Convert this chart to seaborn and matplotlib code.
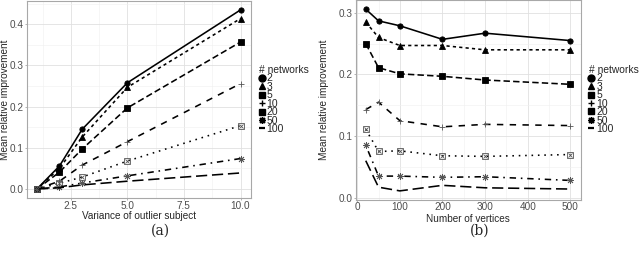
import matplotlib
matplotlib.use("Agg")
import matplotlib.pyplot as plt
from matplotlib.lines import Line2D
from matplotlib.ticker import MultipleLocator, FormatStrFormatter
import seaborn as sns
import pandas as pd

networks = ["2", "3", "5", "10", "20", "50", "100"]

# panel (a)
variance = [1, 2, 3, 5, 10]
imp_a = {
    "2":   [0.0, 0.056, 0.145, 0.258, 0.435],
    "3":   [0.0, 0.050, 0.126, 0.247, 0.414],
    "5":   [0.0, 0.041, 0.097, 0.197, 0.357],
    "10":  [0.0, 0.019, 0.058, 0.115, 0.256],
    "20":  [0.0, 0.014, 0.029, 0.068, 0.154],
    "50":  [0.0, 0.005, 0.0145, 0.032, 0.074],
    "100": [0.0, 0.003, 0.010, 0.019, 0.039],
}

# panel (b)
vertices = [20, 50, 100, 200, 300, 500]
imp_b = {
    "2":   [0.306, 0.287, 0.279, 0.257, 0.267, 0.255],
    "3":   [0.285, 0.260, 0.247, 0.247, 0.240, 0.240],
    "5":   [0.250, 0.211, 0.201, 0.197, 0.191, 0.184],
    "10":  [0.143, 0.155, 0.125, 0.115, 0.119, 0.117],
    "20":  [0.111, 0.075, 0.076, 0.068, 0.067, 0.070],
    "50":  [0.085, 0.035, 0.035, 0.033, 0.034, 0.028],
    "100": [0.060, 0.017, 0.011, 0.020, 0.016, 0.014],
}

markers = ["o", "^", "s", "+", "s", (8, 2, 0), "_"]
dashes = [(None, None), (2, 2), (4, 2), (4, 4), (1, 3), (1, 3, 4, 3), (7, 3)]
msizes = [3.8, 4.2, 3.8, 5, 3.8, 5, 0]
mcolors = ["black", "black", "black", "#555555", "#555555", "#555555", "black"]
mfaces = ["black", "black", "black", "#555555", "none", "#555555", "black"]

def long_df(xvals, table, xname):
    rows = []
    for n in networks:
        for x, y in zip(xvals, table[n]):
            rows.append({xname: x, "imp": y, "networks": n})
    return pd.DataFrame(rows)

df_a = long_df(variance, imp_a, "variance")
df_b = long_df(vertices, imp_b, "vertices")

sns.set_style("white")
plt.rcParams["font.family"] = ["Liberation Sans", "DejaVu Sans"]

fig = plt.figure(figsize=(6.4, 2.61), dpi=100)
ax_a = fig.add_axes([0.0417, 0.2414, 0.35, 0.755])
ax_b = fig.add_axes([0.5555, 0.2356, 0.3516, 0.764])

grey30 = "#4d4d4d"

def draw(ax, df, xname):
    for i, n in enumerate(networks):
        sub = df[df["networks"] == n]
        sns.lineplot(data=sub, x=xname, y="imp", color="black", lw=1.15,
                     dashes=dashes[i], marker=markers[i], markersize=msizes[i],
                     markeredgecolor=mcolors[i], markerfacecolor=mfaces[i],
                     markeredgewidth=0.6, ax=ax, legend=False, zorder=3)
        if n == "20":
            # the cross inside the square marker
            sns.lineplot(data=sub, x=xname, y="imp", color="#555555", ls="",
                         marker="x", markersize=3.4, markeredgecolor="#555555",
                         markeredgewidth=0.6, ax=ax, legend=False, zorder=4)
    ax.set_facecolor("white")
    ax.grid(True, which="major", color="#e0e0e0", lw=0.6)
    ax.grid(True, which="minor", color="#f0f0f0", lw=0.4)
    ax.set_axisbelow(True)
    for s in ax.spines.values():
        s.set_color("#a8a8a8")
        s.set_linewidth(0.8)
    ax.tick_params(axis="both", which="major", length=1.5, width=0.6,
                   color="#a8a8a8", labelsize=7.2, labelcolor=grey30, pad=0.6,
                   direction="out", bottom=True, left=True)
    ax.tick_params(which="minor", length=0)
    ax.set_ylabel("Mean relative improvement", fontsize=7.2)
    handles = []
    for i, n in enumerate(networks):
        handles.append(Line2D([0], [0], color="black", lw=0, marker=markers[i],
                              markersize=max(msizes[i], 5.5) - 0.5,
                              markeredgewidth=1.0 if i != 6 else 1.6,
                              markeredgecolor="black", markerfacecolor="black"))
    ax.legend(handles, networks, title="# networks", loc="upper left",
              bbox_to_anchor=(1.037, 0.675), frameon=False, fontsize=7.5,
              title_fontsize=7.4, labelspacing=-0.15, handlelength=0.5,
              handletextpad=0.2, borderpad=0, borderaxespad=0,
              alignment="left")

draw(ax_a, df_a, "variance")
ax_a.set_xlim(0.55, 10.45)
ax_a.set_ylim(-0.0218, 0.4568)
ax_a.xaxis.set_major_locator(MultipleLocator(2.5))
ax_a.xaxis.set_minor_locator(MultipleLocator(1.25))
ax_a.yaxis.set_major_locator(MultipleLocator(0.1))
ax_a.yaxis.set_minor_locator(MultipleLocator(0.05))
ax_a.xaxis.set_major_formatter(FormatStrFormatter("%.1f"))
ax_a.yaxis.set_major_formatter(FormatStrFormatter("%.1f"))
ax_a.set_xlabel("Variance of outlier subject", fontsize=7.2)
ax_a.xaxis.set_label_coords(0.5, -0.068)
ax_a.yaxis.set_label_coords(-0.075, 0.5)

draw(ax_b, df_b, "vertices")
ax_b.set_xlim(-4, 524)
ax_b.set_ylim(-0.003, 0.3207)
ax_b.xaxis.set_major_locator(MultipleLocator(100))
ax_b.xaxis.set_minor_locator(MultipleLocator(50))
ax_b.yaxis.set_major_locator(MultipleLocator(0.1))
ax_b.yaxis.set_minor_locator(MultipleLocator(0.05))
ax_b.yaxis.set_major_formatter(FormatStrFormatter("%.1f"))
ax_b.set_xlabel("Number of vertices", fontsize=7.2)
ax_b.xaxis.set_label_coords(0.5, -0.072)
ax_b.yaxis.set_label_coords(-0.12, 0.5)

fig.text(160 / 640, 1 - 231 / 261, "(a)", family="DejaVu Serif", fontsize=10,
         ha="center", va="center")
fig.text(480 / 640, 1 - 231 / 261, "(b)", family="DejaVu Serif", fontsize=10,
         ha="center", va="center")

fig.savefig("out.png", dpi=100, facecolor="white")
